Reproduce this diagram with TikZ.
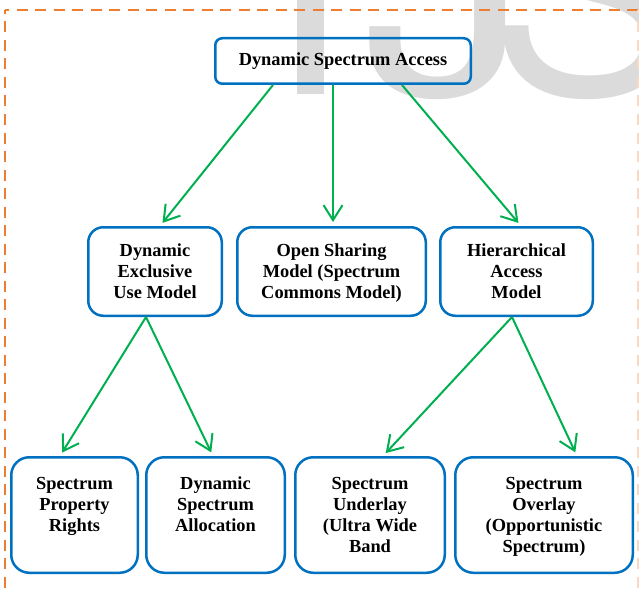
\documentclass[tikz,border=0pt]{standalone}
\usepackage{fontspec}
\setmainfont{Liberation Serif}
\newfontfamily\markfont{TeX Gyre Heros}
\usepackage{tikz}
\usetikzlibrary{
    arrows.meta,
    positioning
}
\definecolor{boxblue}{RGB}{0,112,192}
\definecolor{flowgreen}{RGB}{0,176,80}
\definecolor{borderorange}{RGB}{237,125,49}

\begin{document}
\begin{tikzpicture}[x=1pt, y=-1pt,
    box/.style={draw=boxblue, line width=2.5pt, rounded corners=7pt, align=center, inner sep=0pt,
        font=\bfseries\fontsize{18.4}{21}\selectfont},
    midbox/.style={box, rounded corners=15pt, minimum height=88.5pt, text depth=0pt},
    leafbox/.style={box, rounded corners=18pt, minimum height=115.5pt, text depth=0pt},
    flow/.style={draw=flowgreen, line width=2pt, -{Straight Barb[length=15pt,width=19pt]}, shorten >=4pt},
    pageborder/.style={draw=borderorange, line width=2.5pt, dash pattern=on 11pt off 7.5pt, dash phase=7pt}
]
\useasboundingbox (0, 0) rectangle (639, 591);
\node[anchor=base west, inner sep=0pt, text=black!14, font=\markfont\fontsize{290}{290}\selectfont] (mark) at (268, 95) {I\kern15pt\scalebox{1.15}[1]{J}\kern-41pt S};

\draw[pageborder] (5, 10) -- (639, 10);
\draw[pageborder] (5, 10) -- (5, 591);
\draw[pageborder, draw=borderorange!30] (638, 10) -- (638, 591);

\node[box, minimum width=255.5pt, minimum height=45.5pt] (dsa) at (343, 61) {Dynamic Spectrum Access};

\node[midbox, minimum width=133.5pt] (exclusive) at (155, 271.5) {Dynamic\\Exclusive\\Use Model};
\node[midbox, minimum width=188.5pt] (sharing) at (331.5, 271.5) {Open Sharing\\Model (Spectrum\\Commons Model)};
\node[midbox, minimum width=152.5pt] (hierarchical) at (516.5, 271.5) {Hierarchical\\Access\\Model};

\node[leafbox, minimum width=126.5pt] (rights) at (74.5, 515) {Spectrum\\Property\\Rights\\~};
\node[leafbox, minimum width=138.5pt] (allocation) at (215.5, 515) {Dynamic\\Spectrum\\Allocation\\~};
\node[leafbox, minimum width=149.5pt] (underlay) at (370, 515) {Spectrum\\Underlay\\(Ultra Wide\\Band};
\node[leafbox, minimum width=177.5pt] (overlay) at (544, 515) {Spectrum\\Overlay\\(Opportunistic\\Spectrum)};

\draw[flow] ([xshift=-70pt]dsa.south) -- ([xshift=5pt]exclusive.north);
\draw[flow] ([xshift=-10pt]dsa.south) -- ([xshift=1.5pt]sharing.north);
\draw[flow] ([xshift=59pt]dsa.south) -- ([xshift=4.5pt]hierarchical.north);

\draw[flow] ([xshift=-9pt]exclusive.south) -- ([xshift=-14.5pt]rights.north);
\draw[flow] ([xshift=-9pt]exclusive.south) -- ([xshift=-2.5pt]allocation.north);
\draw[flow] ([xshift=-4.5pt]hierarchical.south) -- ([xshift=13pt]underlay.north);
\draw[flow] ([xshift=-4.5pt]hierarchical.south) -- ([xshift=33pt]overlay.north);
\end{tikzpicture}
\end{document}
